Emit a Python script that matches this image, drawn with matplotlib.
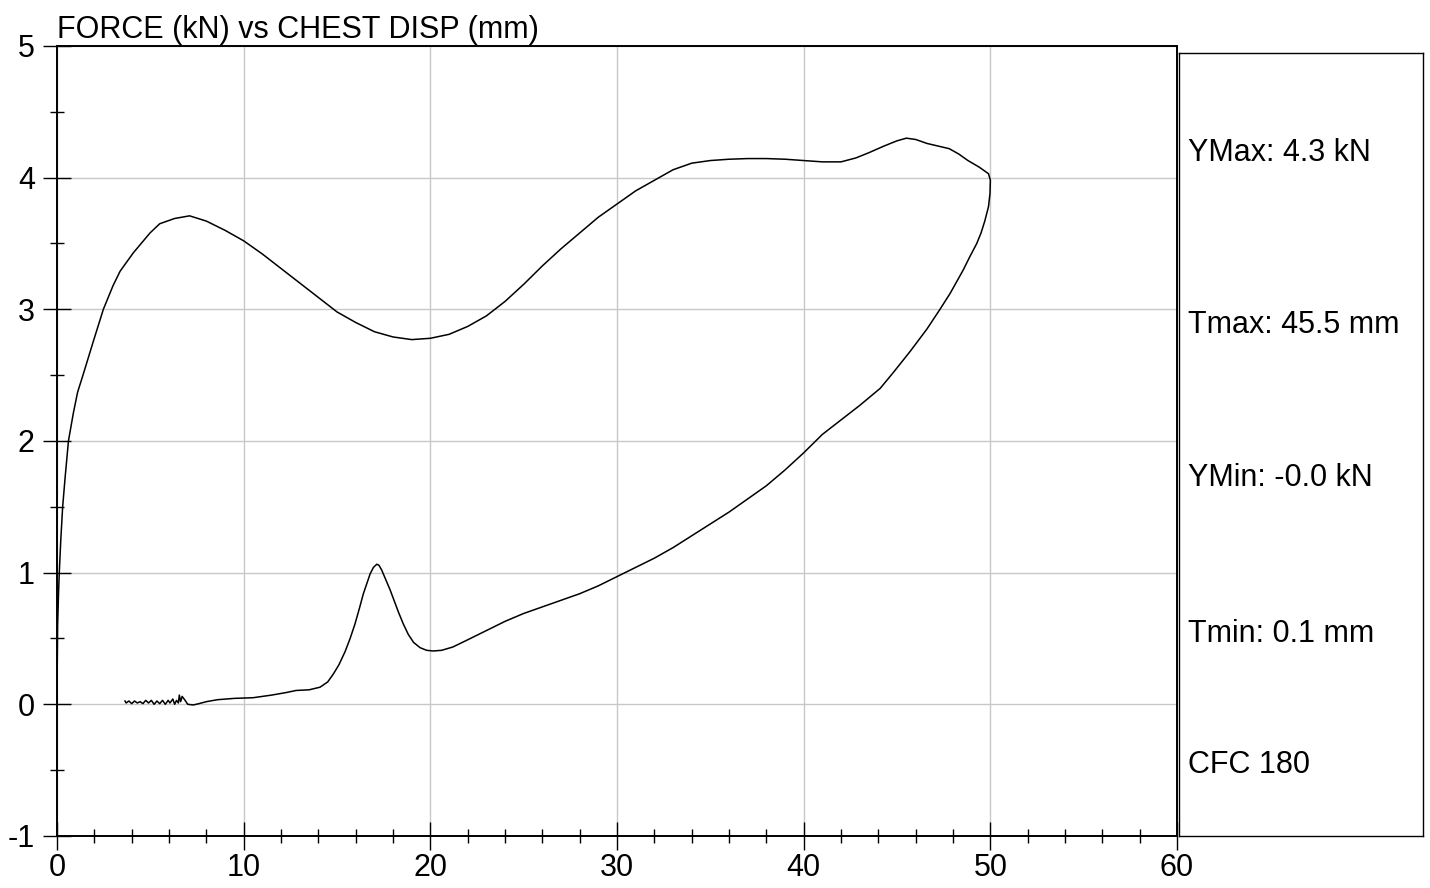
import numpy as np
import matplotlib
matplotlib.use("Agg")
import matplotlib.pyplot as plt
from matplotlib.ticker import MultipleLocator

plt.rcParams['font.family'] = ['Liberation Sans', 'DejaVu Sans']
plt.rcParams['axes.unicode_minus'] = False

# chest displacement (mm) and force (kN)
disp = [0.0, 0.01, 0.03, 0.08, 0.12, 0.2, 0.3, 0.43, 0.61, 0.87, 1.1, 1.41, 1.95, 2.48,
        3.0, 3.38, 4.09, 4.98, 5.5, 6.3, 7.1, 8.0, 9.0, 10.0, 11.0, 12.0, 13.0, 14.0, 15.0,
        16.0, 17.0, 18.0, 19.0, 20.0, 21.0, 22.0, 23.0, 24.0, 25.0, 26.0, 27.0, 28.0, 29.0,
        30.0, 31.0, 32.0, 33.0, 34.0, 35.0, 36.0, 37.0, 38.0, 39.0, 40.0, 41.0, 42.0, 42.8,
        43.5, 44.3, 45.0, 45.5, 46.0, 46.6, 47.2, 47.8, 48.3, 48.8, 49.4, 49.9, 50.0, 49.98,
        49.9, 49.7, 49.5, 49.27, 48.9, 48.55, 47.84, 47.3, 46.6, 45.7, 44.8, 44.1, 43.0,
        42.0, 41.0, 40.0, 39.0, 38.0, 37.0, 36.0, 35.0, 34.0, 33.0, 32.0, 31.0, 30.0, 29.0,
        28.0, 27.0, 26.0, 25.0, 24.0, 23.0, 22.0, 21.2, 20.6, 20.16, 19.8, 19.45, 19.1,
        18.82, 18.55, 18.29, 18.05, 17.84, 17.6, 17.39, 17.25, 17.13, 16.95, 16.77, 16.6,
        16.41, 16.2, 15.96, 15.7, 15.43, 15.1, 14.8, 14.5, 14.09, 13.5, 12.8, 12.3, 11.5,
        10.5, 9.5, 8.6, 8.0, 7.6, 7.3, 7.0,
        6.86, 6.7, 6.62, 6.55, 6.5, 6.4, 6.3, 6.2, 6.05, 5.95, 5.8, 5.65, 5.5, 5.35, 5.2,
        5.05, 4.9, 4.75, 4.6, 4.45, 4.3, 4.15, 4.0, 3.85, 3.7, 3.64]
force = [0.0, 0.3, 0.6, 0.85, 1.0, 1.25, 1.5, 1.72, 2.0, 2.21, 2.37, 2.51, 2.76, 3.0,
         3.18, 3.29, 3.43, 3.58, 3.65, 3.69, 3.71, 3.67, 3.6, 3.52, 3.42, 3.31, 3.2, 3.09, 2.98,
         2.9, 2.83, 2.79, 2.77, 2.78, 2.81, 2.87, 2.95, 3.06, 3.19, 3.33, 3.46, 3.58, 3.7,
         3.8, 3.9, 3.98, 4.06, 4.11, 4.13, 4.14, 4.145, 4.145, 4.14, 4.13, 4.12, 4.12, 4.15,
         4.19, 4.24, 4.28, 4.30, 4.29, 4.26, 4.24, 4.22, 4.18, 4.13, 4.08, 4.03, 3.98, 3.88,
         3.78, 3.67, 3.58, 3.5, 3.4, 3.3, 3.12, 3.0, 2.85, 2.68, 2.52, 2.40, 2.27,
         2.16, 2.05, 1.91, 1.78, 1.66, 1.56, 1.46, 1.37, 1.28, 1.19, 1.11, 1.04, 0.97, 0.9,
         0.84, 0.79, 0.74, 0.69, 0.63, 0.56, 0.49, 0.435, 0.41, 0.405, 0.41, 0.43, 0.47,
         0.53, 0.61, 0.7, 0.79, 0.87, 0.95, 1.02, 1.055, 1.064, 1.04, 0.99, 0.92,
         0.84, 0.73, 0.61, 0.5, 0.40, 0.3, 0.23, 0.17, 0.13, 0.11, 0.105, 0.09, 0.07,
         0.05, 0.045, 0.035, 0.02, 0.005, -0.005, 0.0,
         0.03, 0.06, 0.02, 0.07, 0.01, 0.03, 0.0, 0.04, 0.01, 0.03, 0.0, 0.03, 0.005, 0.025, 0.0,
         0.03, 0.01, 0.03, 0.005, 0.02, 0.01, 0.025, 0.005, 0.025, 0.01, 0.025]

title = "FORCE (kN) vs CHEST DISP (mm)"
stats = ["YMax: 4.3 kN", "Tmax: 45.5 mm", "YMin: -0.0 kN", "Tmin: 0.1 mm", "CFC 180"]
stat_pos = [0.872, 0.653, 0.457, 0.258, 0.091]

fig = plt.figure(figsize=(14.3, 8.88), dpi=100)
ax = fig.add_axes([0.0399, 0.0586, 0.7832, 0.8896])
ax.plot(disp, force, color="black", lw=1.1)

ax.set_xlim(0, 60)
ax.set_ylim(-1, 5)
ax.xaxis.set_major_locator(MultipleLocator(10))
ax.xaxis.set_minor_locator(MultipleLocator(2))
ax.yaxis.set_major_locator(MultipleLocator(1))
ax.yaxis.set_minor_locator(MultipleLocator(0.5))
ax.grid(True, which="major", color="#c8c8c8", lw=1.0)
ax.tick_params(which="major", direction="inout", length=20, width=1.0,
               labelsize=22, pad=6, color="black")
ax.tick_params(axis="x", which="major", pad=2)
ax.tick_params(which="minor", direction="inout", length=10, width=1.0, color="black")
for s in ax.spines.values():
    s.set_linewidth(1.4)
ax.set_title(title, loc="left", fontsize=22, pad=6)

# info panel on the right
ax2 = fig.add_axes([0.8245, 0.0586, 0.1706, 0.8817])
ax2.set_xticks([])
ax2.set_yticks([])
for s in ax2.spines.values():
    s.set_linewidth(1.0)
for txt, yy in zip(stats, stat_pos):
    ax2.text(0.037, yy, txt, fontsize=22, va="center", ha="left", transform=ax2.transAxes)

fig.savefig("out.png", dpi=100)
